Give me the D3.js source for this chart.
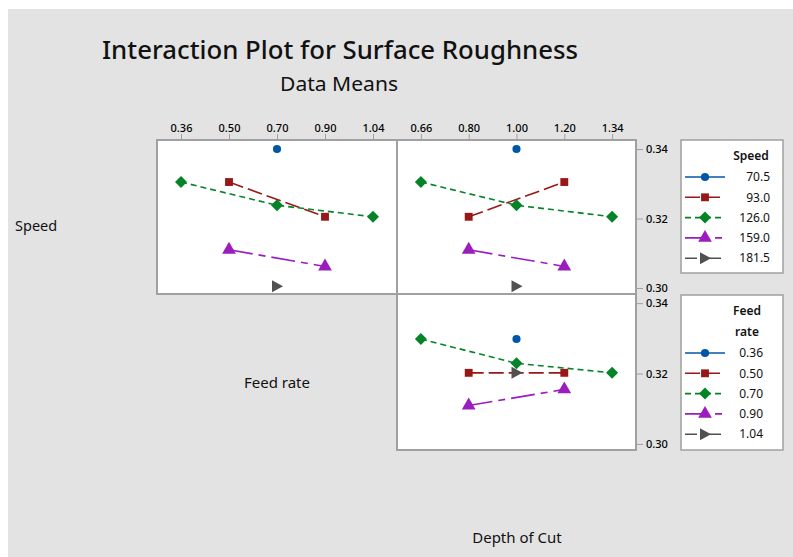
<!DOCTYPE html>
<html><head><meta charset="utf-8">
<script src="https://cdn.jsdelivr.net/npm/d3@7"></script>
<style>
html,body{margin:0;padding:0;background:#fff;}
svg{display:block;font-family:"Noto Sans","Open Sans",sans-serif;}
</style></head>
<body>
<svg id="chart" width="793" height="557"></svg>
<script>
// ---- data ----
const speedLevels = ["70.5", "93.0", "126.0", "159.0", "181.5"];
const feedLevels = ["0.36", "0.50", "0.70", "0.90", "1.04"];
const depthLevels = ["0.66", "0.80", "1.00", "1.20", "1.34"];
const yTicks = [0.30, 0.32, 0.34];

// Speed means by Feed rate (rows = speed level, cols = feed level)
const speedByFeed = [
  [null, null, 0.340, null, null],
  [null, 0.3305, null, 0.3205, null],
  [0.3305, null, 0.3238, null, 0.3205],
  [null, 0.311, null, 0.3062, null],
  [null, null, 0.3005, null, null]
];
// Speed means by Depth of Cut (rows = speed level, cols = depth level)
const speedByDepth = [
  [null, null, 0.340, null, null],
  [null, 0.3205, null, 0.3305, null],
  [0.3305, null, 0.3238, null, 0.3205],
  [null, 0.311, null, 0.3062, null],
  [null, null, 0.3005, null, null]
];
// Feed rate means by Depth of Cut (rows = feed level, cols = depth level)
const feedByDepth = [
  [null, null, 0.3298, null, null],
  [null, 0.3202, null, 0.3202, null],
  [0.3298, null, 0.3229, null, 0.3202],
  [null, 0.3109, null, 0.3155, null],
  [null, null, 0.3202, null, null]
];

// ---- styles ----
const colors = ["#0057A8", "#981818", "#048427", "#9B1DBE", "#505050"];
const dashes = [null, "15,5", "6,4", "24,6,7,6", "12,4,4,4"];
const shapes = [d3.symbolCircle, d3.symbolSquare, d3.symbolDiamond2, d3.symbolTriangle, "right"];
const sizes = [52, 62, 92, 82, 78];

const svg = d3.select("#chart");
svg.append("rect").attr("x", 8).attr("y", 9).attr("width", 785).attr("height", 548).attr("fill", "#e3e3e3");

function marker(g, i, x, y) {
  if (shapes[i] === "right") {
    g.append("path").attr("d", `M${x-5},${y-6}L${x+6},${y}L${x-5},${y+6}Z`).attr("fill", colors[i]);
  } else {
    g.append("path").attr("d", d3.symbol().type(shapes[i]).size(sizes[i])())
      .attr("transform", `translate(${x},${y})`).attr("fill", colors[i]);
  }
}

// Title
svg.append("text").attr("x", 340).attr("y", 59).attr("text-anchor", "middle")
  .attr("font-size", 26).attr("font-weight", 500).attr("fill", "#111")
  .attr("textLength", 476).attr("lengthAdjust", "spacingAndGlyphs")
  .text("Interaction Plot for Surface Roughness");
svg.append("text").attr("x", 339).attr("y", 91).attr("text-anchor", "middle")
  .attr("font-size", 20.5).attr("fill", "#111")
  .attr("textLength", 118).attr("lengthAdjust", "spacingAndGlyphs")
  .text("Data Means");

// panel geometry
const colX = [[157, 397], [397, 636]];
const rowY = [[140, 294], [294, 450]];
const yDomain = [0.29827, 0.34260];

function panel(col, row, levels, data, showTop, showRight) {
  const [x0, x1] = colX[col], [y0, y1] = rowY[row];
  const x = d3.scalePoint().domain(levels).range([x0, x1]).padding(0.5);
  const y = d3.scaleLinear().domain(yDomain).range([y1, y0]);
  const g = svg.append("g");
  g.append("rect").attr("x", x0).attr("y", y0).attr("width", x1 - x0).attr("height", y1 - y0)
    .attr("fill", "#fff").attr("stroke", "#a0a0a0").attr("stroke-width", 2);
  if (showTop) {
    const ax = g.append("g").attr("transform", `translate(0,${y0-1})`)
      .call(d3.axisTop(x).tickSize(5).tickSizeOuter(0));
    ax.select(".domain").remove();
    ax.selectAll("line").attr("stroke", "#a0a0a0");
    ax.selectAll("text").attr("font-size", 11).attr("fill", "#000").attr("font-weight", 500)
      .attr("dy", "0.1em").attr("font-family", "Noto Sans");
  }
  if (showRight) {
    const ay = g.append("g").attr("transform", `translate(${x1+1},0)`)
      .call(d3.axisRight(y).tickValues(yTicks).tickFormat(d3.format(".2f")).tickSize(6).tickSizeOuter(0));
    ay.select(".domain").remove();
    ay.selectAll("line").attr("stroke", "#a0a0a0");
    ay.selectAll("text").attr("font-size", 11).attr("fill", "#000").attr("font-weight", 500)
      .attr("x", 9).attr("font-family", "Noto Sans");
  }
  const line = d3.line().x(d => x(d.lvl)).y(d => y(d.v));
  data.forEach((row, i) => {
    const pts = row.map((v, j) => ({lvl: levels[j], v})).filter(d => d.v != null);
    if (pts.length > 1) {
      g.append("path").attr("d", line(pts)).attr("fill", "none").attr("stroke", colors[i])
        .attr("stroke-width", 1.6).attr("stroke-dasharray", dashes[i]);
    }
  });
  data.forEach((row, i) => {
    row.forEach((v, j) => { if (v != null) marker(g, i, x(levels[j]), y(v)); });
  });
}

panel(0, 0, feedLevels, speedByFeed, true, false);
panel(1, 0, depthLevels, speedByDepth, true, true);
panel(1, 1, depthLevels, feedByDepth, false, true);

// Row/column labels
svg.append("text").attr("x", 15).attr("y", 231).attr("font-size", 14.5).attr("fill", "#111").text("Speed");
svg.append("text").attr("x", 277).attr("y", 388).attr("text-anchor", "middle").attr("font-size", 15).attr("fill", "#111").text("Feed rate");
svg.append("text").attr("x", 517).attr("y", 543).attr("text-anchor", "middle").attr("font-size", 15).attr("fill", "#111").text("Depth of Cut");

// Legends
function legend(y0, h, titleLines, labels, labelRight, titleX) {
  const g = svg.append("g");
  g.append("rect").attr("x", 681).attr("y", y0).attr("width", 102).attr("height", h)
    .attr("fill", "#fff").attr("stroke", "#a0a0a0").attr("stroke-width", 1.5);
  titleLines.forEach((t, k) => {
    g.append("text").attr("x", titleX).attr("y", y0 + 20 + k * 21).attr("text-anchor", "middle")
      .attr("font-size", 12).attr("font-weight", 600).attr("fill", "#111").text(t);
  });
  const startY = y0 + 16 + titleLines.length * 21;
  labels.forEach((lab, i) => {
    const yy = startY + i * 20.3;
    g.append("line").attr("x1", 685).attr("x2", 725).attr("y1", yy).attr("y2", yy)
      .attr("stroke", colors[i]).attr("stroke-width", 1.6).attr("stroke-dasharray", dashes[i]);
    marker(g, i, 705, yy);
    g.append("text").attr("x", labelRight).attr("y", yy).attr("dy", "0.35em").attr("text-anchor", "end")
      .attr("font-size", 12).attr("fill", "#111").text(lab);
  });
}
legend(140, 133, ["Speed"], speedLevels, 770, 751);
legend(295, 155, ["Feed", "rate"], feedLevels, 763, 747);
</script>
</body></html>
